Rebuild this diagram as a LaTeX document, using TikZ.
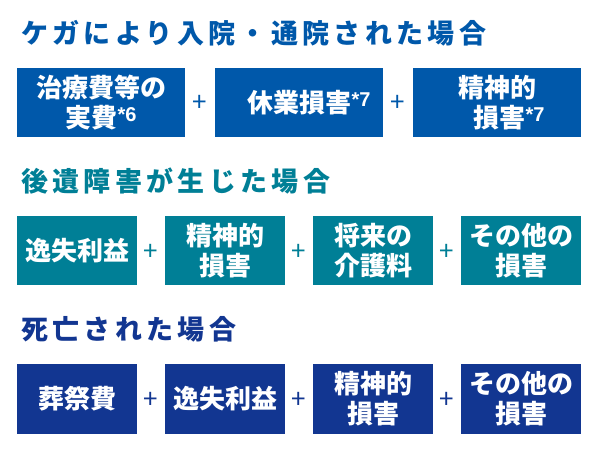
\documentclass[tikz,border=0pt]{standalone}
\usepackage{fontspec}
\setmainfont{Noto Sans CJK JP}
\newfontfamily\headfont[LetterSpace=16]{Noto Sans CJK JP}
\newfontfamily\markfont{Liberation Sans}
\usepackage{tikz}
\definecolor{injblue}{RGB}{0,88,170}
\definecolor{sqteal}{RGB}{0,127,150}
\definecolor{dthnavy}{RGB}{18,54,145}
\tikzset{
  casehead/.style={anchor=west, inner sep=0pt, text=#1, font=\headfont\fontsize{27}{27}\selectfont\bfseries},
  cbox/.style={fill=#1, text=white, minimum height=69pt, inner sep=0pt, align=center, font=\fontsize{26}{30}\selectfont\bfseries},
  plussign/.style={text=#1, inner sep=0pt, font=\fontsize{26}{26}\selectfont}
}
\newcommand{\footmark}[1]{\raisebox{6pt}{\markfont\fontsize{20}{20}\selectfont *#1}}

\begin{document}
\begin{tikzpicture}[x=1pt, y=-1pt]
            \useasboundingbox (0,0) rectangle (600,454);
            % injury
            \node[casehead=injblue] (T1) at (21,33.5) {ケガにより入院・通院された場合};
            \node[cbox=injblue, minimum width=168pt] (A1) at (101,102.5) {治療費等の\\実費\footmark{6}};
            \node[cbox=injblue, minimum width=168pt] (A2) at (299,102.5) {\hspace{20pt}休業損害\footmark{7}};
            \node[cbox=injblue, minimum width=168pt] (A3) at (497,102.5) {精神的\hspace{8pt}\\\hspace{24pt}損害\footmark{7}};
            \node[plussign=injblue] (PA1) at (200,103.5) {+};
            \node[plussign=injblue] (PA2) at (398,103.5) {+};
            % after-effects
            \node[casehead=sqteal] (T2) at (21,181.5) {後遺障害が生じた場合};
            \node[cbox=sqteal, minimum width=120pt] (B1) at (77,251) {逸失利益};
            \node[cbox=sqteal, minimum width=120pt] (B2) at (225,251) {精神的\\損害};
            \node[cbox=sqteal, minimum width=120pt] (B3) at (373,251) {将来の\\介護料};
            \node[cbox=sqteal, minimum width=120pt] (B4) at (521,251) {その他の\\損害};
            \node[plussign=sqteal] (PB1) at (151,252) {+};
            \node[plussign=sqteal] (PB2) at (299,252) {+};
            \node[plussign=sqteal] (PB3) at (447,252) {+};
            % death
            \node[casehead=dthnavy] (T3) at (21,329.5) {死亡された場合};
            \node[cbox=dthnavy, minimum width=120pt] (C1) at (77,399) {葬祭費};
            \node[cbox=dthnavy, minimum width=120pt] (C2) at (225,399) {逸失利益};
            \node[cbox=dthnavy, minimum width=120pt] (C3) at (373,399) {精神的\\損害};
            \node[cbox=dthnavy, minimum width=120pt] (C4) at (521,399) {その他の\\損害};
            \node[plussign=dthnavy] (PC1) at (151,400) {+};
            \node[plussign=dthnavy] (PC2) at (299,400) {+};
            \node[plussign=dthnavy] (PC3) at (447,400) {+};
        \end{tikzpicture}
\end{document}
